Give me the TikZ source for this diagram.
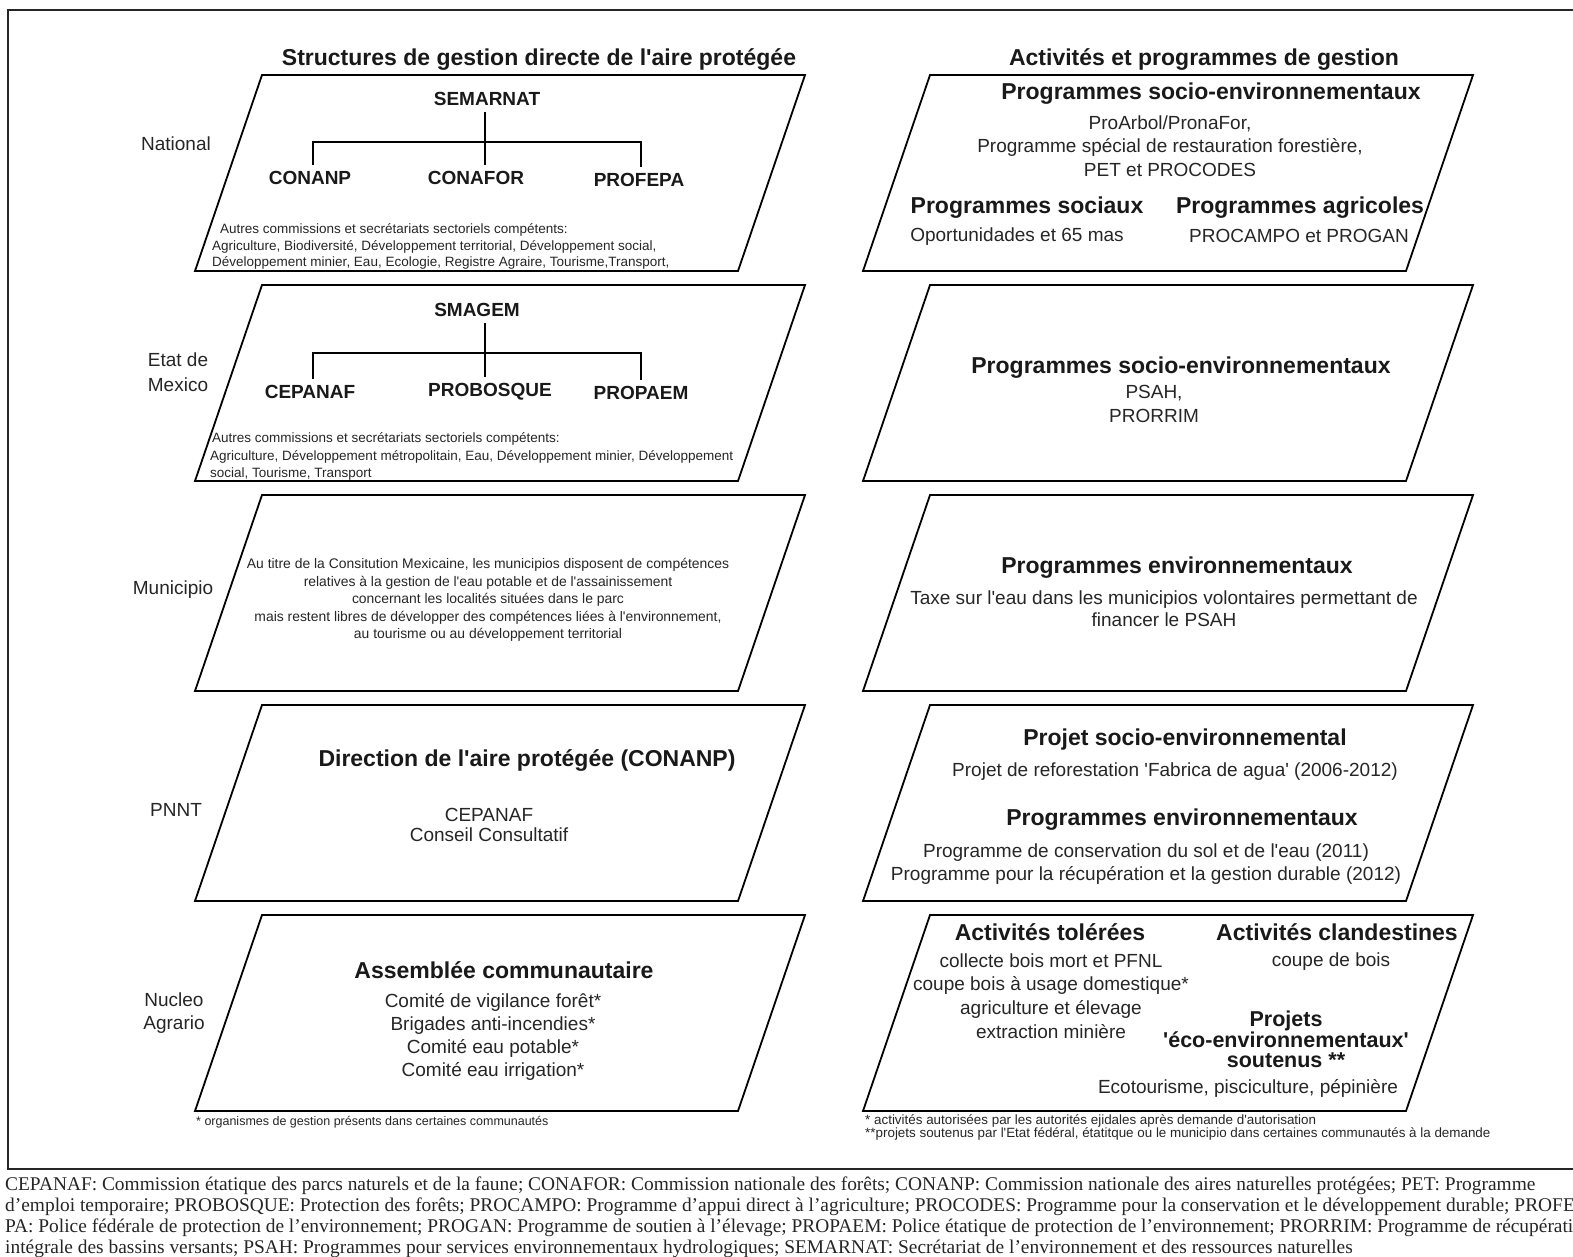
\documentclass[tikz,border=0pt]{standalone}
\usepackage{fontspec}
\setmainfont{Liberation Sans}[Ligatures=TeXOff]
\newfontfamily\timesfont{Liberation Serif}
\newcommand\fsz[2]{\fontsize{#1}{#2}\selectfont}
\begin{document}
\begin{tikzpicture}[x=1pt,y=-1pt,
  boxline/.style={draw=black, line width=1.8pt, line join=miter},
  frameline/.style={draw=black!85, line width=2.2pt},
  tree/.style={draw=black, line width=1.4pt},
  hd/.style={font=\bfseries\fsz{23}{26}, inner sep=0pt, text=black!90},
  lab/.style={font=\fsz{19}{25}, inner sep=0pt, align=center, text=black!85},
  tx/.style={font=\fsz{19}{23.3}, inner sep=0pt, align=center, text=black!85},
  org/.style={font=\bfseries\fsz{19}{22}, inner ysep=6pt, inner xsep=0pt, text=black!90},
  sm/.style={font=\fsz{13.5}{17}, inner sep=0pt, anchor=west, text=black!85},
  smc/.style={font=\fsz{13.9}{17.6}, inner sep=0pt, align=center, text=black!85},
  smr/.style={font=\fsz{13.4}{12}, inner sep=0pt, anchor=west, text=black!85},
  foot/.style={font=\timesfont\fsz{19.4}{21}, inner sep=0pt, anchor=base west, text=black!85}
]
\useasboundingbox (0,0) rectangle (1573,1256);
\clip (0,0) rectangle (1573,1256);
\fill[white] (0,0) rectangle (1573,1256);

% frame
\draw[frameline] (1575,10) -- (8,10) -- (8,1169) -- (1575,1169);

% titles
\node[hd] (t1) at (539,60) {Structures de gestion directe de l'aire protégée};
\node[hd] (t2) at (1204,60) {Activités et programmes de gestion};

% left parallelograms
\foreach \t in {75,285,495,705,915}{
  \draw[boxline] (262,\t) -- ++(543,0) -- ++(-67,196) -- ++(-543,0) -- cycle;
}
% right parallelograms
\foreach \t in {75,285,495,705,915}{
  \draw[boxline] (930,\t) -- ++(543,0) -- ++(-67,196) -- ++(-543,0) -- cycle;
}

% level labels
\node[lab] (l1) at (176,144) {National};
\node[lab] (l2) at (178,372) {Etat de\\Mexico};
\node[lab] (l3) at (173,590) {Municipio};
\node[lab] (l4) at (176,810) {PNNT};
\node[lab, font=\fsz{19}{23}] (l5) at (174,1013) {Nucleo\\Agrario};

% box 1 : national tree
\node[org] (sem) at (487,99) {SEMARNAT};
\node[org] (cnp) at (310,178) {CONANP};
\node[org] (cnf) at (476,178) {CONAFOR};
\node[org] (pfp) at (639,180) {PROFEPA};
\coordinate (a1) at (313,142);
\coordinate (b1) at (485,142);
\coordinate (c1) at (641,142);
\draw[tree] (sem.south -| b1) -- (b1 |- cnf.north);
\draw[tree] (a1 |- cnp.north) -- (a1) -- (c1) -- (c1 |- pfp.north);
\node[sm] (o1) at (220,230) {Autres commissions et secrétariats sectoriels compétents:};
\node[sm] (o2) at (212,247) {Agriculture, Biodiversité, Développement territorial, Développement social,};
\node[sm] (o3) at (212,263) {Développement minier, Eau, Ecologie, Registre Agraire, Tourisme,Transport,};

% box 2 : state tree
\node[org] (smg) at (477,310) {SMAGEM};
\node[org] (cep) at (310,392) {CEPANAF};
\node[org] (pbq) at (490,392) {PROBOSQUE};
\node[org] (ppm) at (641,393) {PROPAEM};
\coordinate (a2) at (313,353);
\coordinate (b2) at (485,353);
\coordinate (c2) at (641,353);
\draw[tree] (smg.south -| b2) -- (b2 |- pbq.north);
\draw[tree] (a2 |- cep.north) -- (a2) -- (c2) -- (c2 |- ppm.north);
\node[sm] (o4) at (212,439) {Autres commissions et secrétariats sectoriels compétents:};
\node[sm] (o5) at (210,457) {Agriculture, Développement métropolitain, Eau, Développement minier, Développement};
\node[sm] (o6) at (210,474) {social, Tourisme, Transport};

% box 3 : municipio
\node[smc] (mu) at (488,600) {Au titre de la Consitution Mexicaine, les municipios disposent de compétences\\relatives à la gestion de l'eau potable et de l'assainissement\\concernant les localités situées dans le parc\\mais restent libres de développer des compétences liées à l'environnement,\\au tourisme ou au développement territorial};

% box 4 : PNNT
\node[hd] (dir) at (527,760) {Direction de l'aire protégée (CONANP)};
\node[tx, font=\fsz{19}{20}] (cc) at (489,825) {CEPANAF\\Conseil Consultatif};

% box 5 : nucleo agrario
\node[hd] (asm) at (504,970) {Assemblée communautaire};
\node[tx] (com) at (493,1037) {Comité de vigilance forêt*\\Brigades anti-incendies*\\Comité eau potable*\\Comité eau irrigation*};
\node[sm, font=\fsz{12.5}{16}] (fn1) at (196,1122) {* organismes de gestion présents dans certaines communautés};

% right box 1
\node[hd] (r1h) at (1211,94) {Programmes socio-environnementaux};
\node[tx] (r1t) at (1170,146) {ProArbol/PronaFor,\\Programme spécial de restauration forestière,\\PET et PROCODES};
\node[hd] (r1s) at (1027,208) {Programmes sociaux};
\node[hd] (r1a) at (1300,208) {Programmes agricoles};
\node[tx] (r1o) at (1017,237) {Oportunidades et 65 mas};
\node[tx] (r1p) at (1299,236) {PROCAMPO et PROGAN};

% right box 2
\node[hd] (r2h) at (1181,368) {Programmes socio-environnementaux};
\node[tx] (r2t) at (1154,404) {PSAH,\\PRORRIM};

% right box 3
\node[hd] (r3h) at (1177,568) {Programmes environnementaux};
\node[tx, font=\fsz{19}{22}] (r3t) at (1164,609) {Taxe sur l'eau dans les municipios volontaires permettant de\\financer le PSAH};

% right box 4
\node[hd] (r4h) at (1185,740) {Projet socio-environnemental};
\node[tx] (r4t) at (1175,772) {Projet de reforestation 'Fabrica de agua' (2006-2012)};
\node[hd] (r4e) at (1182,820) {Programmes environnementaux};
\node[tx] (r4a) at (1146,853) {Programme de conservation du sol et de l'eau (2011)};
\node[tx] (r4b) at (1146,875) {Programme pour la récupération et la gestion durable (2012)};

% right box 5
\node[hd] (r5t) at (1050,932) {Activités tolérées};
\node[hd] (r5c) at (1337,932) {Activités clandestines};
\node[tx, font=\fsz{19}{23.7}] (r5l) at (1051,996) {collecte bois mort et PFNL\\coupe bois à usage domestique*\\agriculture et élevage\\extraction minière};
\node[tx] (r5b) at (1331,962) {coupe de bois};
\node[hd, align=center, font=\bfseries\fsz{21.5}{19.5}] (r5p) at (1286,1039) {Projets\\'éco-environnementaux'\\soutenus **};
\node[tx] (r5e) at (1248,1088) {Ecotourisme, pisciculture, pépinière};
\node[smr] (fn2) at (865,1121) {* activités autorisées par les autorités ejidales après demande d'autorisation};
\node[smr] (fn3) at (865,1134) {**projets soutenus par l'Etat fédéral, étatitque ou le municipio dans certaines communautés à la demande};

% bottom glossary
\node[foot] (g1) at (5,1190) {CEPANAF: Commission étatique des parcs naturels et de la faune; CONAFOR: Commission nationale des forêts; CONANP: Commission nationale des aires naturelles protégées; PET: Programme};
\node[foot] (g2) at (5,1211) {d’emploi temporaire; PROBOSQUE: Protection des forêts; PROCAMPO: Programme d’appui direct à l’agriculture; PROCODES: Programme pour la conservation et le développement durable; PROFE};
\node[foot] (g3) at (5,1232) {PA: Police fédérale de protection de l’environnement; PROGAN: Programme de soutien à l’élevage; PROPAEM: Police étatique de protection de l’environnement; PRORRIM: Programme de récupération};
\node[foot] (g4) at (5,1253) {intégrale des bassins versants; PSAH: Programmes pour services environnementaux hydrologiques; SEMARNAT: Secrétariat de l’environnement et des ressources naturelles};
\end{tikzpicture}
\end{document}
